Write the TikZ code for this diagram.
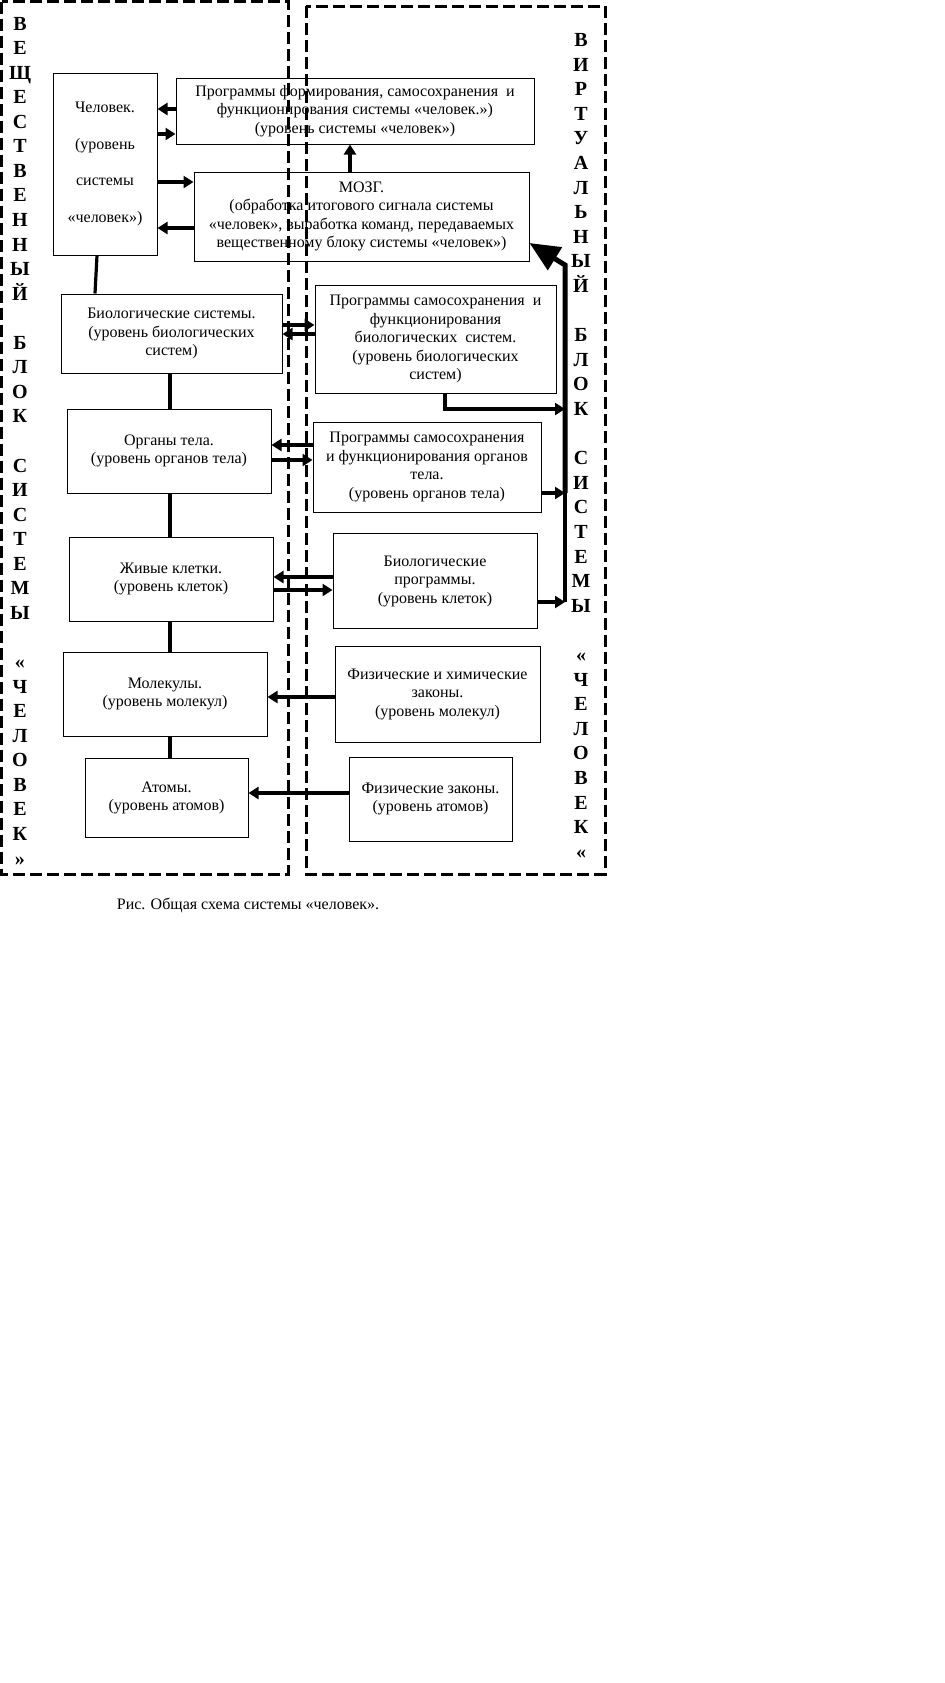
\documentclass[tikz,border=0pt]{standalone}
\usepackage{fontspec}
\setmainfont{Liberation Serif}
\usetikzlibrary{arrows.meta}

\tikzset{
  blk/.style 2 args={draw, line width=0.5pt, minimum width=#1*0.5pt, minimum height=#2*0.5pt,
    inner sep=0pt, align=center, font=\fontsize{8}{9.25}\selectfont},
  lnk/.style={line width=1.6pt},
  arr/.style={line width=1.6pt, -{Triangle[length=5pt,width=6pt]}},
  zone/.style={line width=1.5pt, dash pattern=on 6pt off 2.5pt},
  vlab/.style={font=\fontsize{10}{12}\selectfont\bfseries, anchor=base, inner sep=0pt}
}

\begin{document}
\begin{tikzpicture}[x=0.5pt,y=-0.5pt]
\useasboundingbox (0,0) rectangle (945,1683);

\draw[zone] (1.5,1.5) rectangle (288,874);
\draw[zone] (306,6) rectangle (605,874);

\foreach \ch [count=\i from 0] in {В,Е,Щ,Е,С,Т,В,Е,Н,Н,Ы,Й,{},Б,Л,О,К,{},С,И,С,Т,Е,М,Ы,{},«,Ч,Е,Л,О,В,Е,К,»}
    \node[vlab] (vl\i) at (20,30+24.56*\i) {\ch};
\foreach \ch [count=\i from 0] in {В,И,Р,Т,У,А,Л,Ь,Н,Ы,Й,{},Б,Л,О,К,{},С,И,С,Т,Е,М,Ы,{},«,Ч,Е,Л,О,В,Е,К,«}
    \node[vlab] (vr\i) at (581,46.5+24.6*\i) {\ch};

\node[blk={104}{182}, font=\fontsize{8}{18.35}\selectfont] (chel) at (105,164) {Человек.\\(уровень\\системы\\«человек»)};
\node[blk={358}{66}] (progh) at (355,111) {Программы формирования, самосохранения\ \ и\\функционирования системы «человек.»)\\(уровень системы «человек»)};
\node[blk={335}{89}] (mozg) at (361.5,216.5) {МОЗГ.\\(обработка итогового сигнала системы\\«человек», выработка команд, передаваемых\\вещественному блоку системы «человек»)};
\node[blk={221}{79}] (bio) at (171.5,333.5) {Биологические системы.\\(уровень биологических\\систем)};
\node[blk={241}{108}] (progbio) at (435.5,339) {Программы самосохранения\ \ и\\функционирования\\биологических\ \ систем.\\(уровень биологических\\систем)};
\node[blk={204}{84}] (org) at (169,451) {Органы тела.\\(уровень органов тела)};
\node[blk={228}{90}] (progorg) at (427,467) {Программы самосохранения\\и функционирования органов\\тела.\\(уровень органов тела)};
\node[blk={204}{84}] (cell) at (171,579) {Живые клетки.\\(уровень клеток)};
\node[blk={204}{95}] (progcell) at (435,581) {Биологические\\программы.\\(уровень клеток)};
\node[blk={204}{84}] (mol) at (165,694) {Молекулы.\\(уровень молекул)};
\node[blk={205}{96}] (chem) at (437.5,694) {Физические и химические\\законы.\\(уровень молекул)};
\node[blk={163}{79}] (atom) at (166.5,798) {Атомы.\\(уровень атомов)};
\node[blk={163}{84}] (phys) at (430.5,799) {Физические законы.\\(уровень атомов)};

\draw[arr] (progh.west |- 0,109) -- (chel.east |- 0,109);
\draw[arr] (chel.east |- 0,134) -- (progh.west |- 0,134);
\draw[arr] (chel.east |- 0,182) -- (mozg.west |- 0,182);
\draw[arr] (mozg.west |- 0,228) -- (chel.east |- 0,228);
\draw[arr] (mozg.north -| 350,0) -- (progh.south -| 350,0);

\draw[lnk] (chel.south -| 97,0) -- (bio.north -| 95,0);
\draw[lnk] (bio.south -| 170,0) -- (org.north -| 170,0);
\draw[lnk] (org.south -| 170,0) -- (cell.north -| 170,0);
\draw[lnk] (cell.south -| 170,0) -- (mol.north -| 170,0);
\draw[lnk] (mol.south -| 170,0) -- (atom.north -| 170,0);

\draw[arr] (bio.east |- 0,325) -- (progbio.west |- 0,325);
\draw[arr] (progbio.west |- 0,334) -- (bio.east |- 0,334);
\draw[arr] (progorg.west |- 0,445) -- (org.east |- 0,445);
\draw[arr] (org.east |- 0,460) -- (progorg.west |- 0,460);
\draw[arr] (progcell.west |- 0,577) -- (cell.east |- 0,577);
\draw[arr] (cell.east |- 0,590) -- (progcell.west |- 0,590);
\draw[arr] (chem.west |- 0,697) -- (mol.east |- 0,697);
\draw[arr] (phys.west |- 0,793) -- (atom.east |- 0,793);

\coordinate (busb) at (565,602);
\coordinate (busm) at (565,493);
\coordinate (bust) at (565,265);
\draw[arr] (progbio.south -| 445,0) |- (bust |- 0,409);
\draw[arr] (progorg.east |- busm) -- (busm);
\draw[arr] (progcell.east |- busb) -- (busb);
\draw[line width=1.6pt] (busb) -- (busm);
\draw[line width=2.5pt, -{Triangle[length=15pt,width=13pt]}] (busm) -- (bust) -- (mozg.east |- 0,243);

\node[font=\fontsize{8}{9.25}\selectfont] (cap) at (248,905) {Рис. Общая схема системы «человек».};
\end{tikzpicture}
\end{document}
